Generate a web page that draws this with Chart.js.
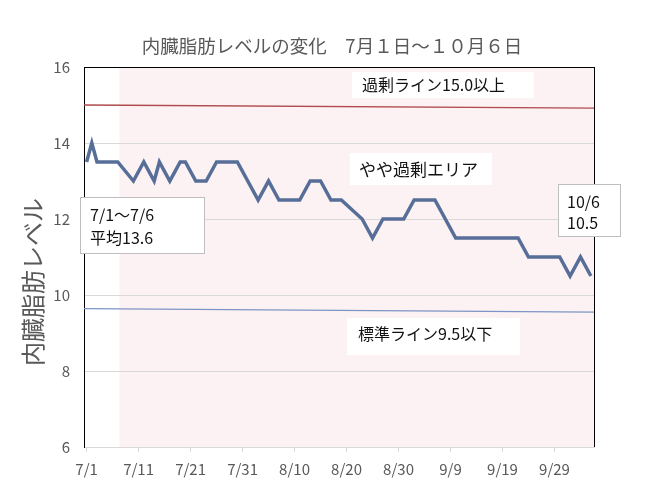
<!DOCTYPE html>
<html>
<head>
<meta charset="utf-8">
<script src="https://cdn.jsdelivr.net/npm/chart.js@4/dist/chart.umd.min.js"></script>
<style>
  html, body { margin: 0; padding: 0; background: #fff; }
  #wrap { width: 656px; height: 489px; }
</style>
</head>
<body>
<div id="wrap"><canvas id="fatChart" width="656" height="489"></canvas></div>
<script>
// days from 7/1 (0) and measured level
const days = [0, 1, 2, 6, 9, 11, 13, 14, 16, 18, 19, 21, 23, 25, 29, 33, 35, 37, 41, 43, 45, 47, 49, 53, 55, 57, 61, 63, 67, 71, 83, 85, 91, 93, 95, 97]
const levels = [13.5, 14, 13.5, 13.5, 13, 13.5, 13, 13.5, 13, 13.5, 13.5, 13, 13, 13.5, 13.5, 12.5, 13, 12.5, 12.5, 13, 13, 12.5, 12.5, 12, 11.5, 12, 12, 12.5, 12.5, 11.5, 11.5, 11, 11, 10.5, 11, 10.5]

// hand drawn reference lines (start / end)
const lineDays = [-0.5, 97.6]
const overLine = [15.0, 14.92]
const normalLine = [9.64, 9.55]

const tickDays = [0, 10, 20, 30, 40, 50, 60, 70, 80, 90]
const tickLabels = ["7/1", "7/11", "7/21", "7/31", "8/10", "8/20", "8/30", "9/9", "9/19", "9/29"]
const pinkStart = 6.3

const FONT = "'Noto Sans CJK JP', 'Noto Sans', sans-serif"
const TITLE = "内臓脂肪レベルの変化　7月１日～１０月６日"

function pts(xs, ys) {
   return xs.map((x, i) => ({ x: x, y: ys[i] }))
}

// pink area after the first week + right frame line
const backPlugin = {
   id: "back",
   beforeDraw(chart) {
      const c = chart.ctx, a = chart.chartArea
      const x0 = chart.scales.x.getPixelForValue(pinkStart)
      c.save()
      c.fillStyle = "#FDF2F3"
      c.fillRect(x0, a.top, a.right - x0, a.bottom - a.top)
      c.restore()
   },
   afterDatasetsDraw(chart) {
      const c = chart.ctx, a = chart.chartArea
      c.save()
      c.strokeStyle = "#000"
      c.lineWidth = 1
      c.beginPath()
      c.moveTo(Math.round(a.right) + 0.5, a.top)
      c.lineTo(Math.round(a.right) + 0.5, a.bottom)
      c.stroke()
      c.restore()
   },
}

// text boxes
const notes = [
   { box: [352, 72, 182, 26], lines: ["過剰ライン15.0以上"], tx: 362, ty: [85], size: 16, border: false },
   { box: [350, 153, 142, 32], lines: ["やや過剰エリア"], tx: 359, ty: [170], size: 17, border: false },
   { box: [347, 318, 173, 37], lines: ["標準ライン9.5以下"], tx: 358, ty: [334], size: 16, border: false },
   { box: [80.5, 197.5, 124, 56], lines: ["7/1～7/6", "平均13.6"], tx: 90, ty: [215, 238], size: 16, border: true },
   { box: [558.5, 184.5, 62, 52], lines: ["10/6", "10.5"], tx: 567, ty: [202, 223], size: 16, border: true },
]

const notePlugin = {
   id: "notes",
   afterDraw(chart) {
      const c = chart.ctx
      c.save()
      notes.forEach(n => {
         c.fillStyle = "#fff"
         c.fillRect(n.box[0], n.box[1], n.box[2], n.box[3])
         if (n.border) {
            c.strokeStyle = "#BFBFBF"
            c.lineWidth = 1
            c.strokeRect(n.box[0], n.box[1], n.box[2], n.box[3])
         }
         c.fillStyle = "#111"
         c.font = n.size + "px " + FONT
         c.textBaseline = "middle"
         c.textAlign = "left"
         n.lines.forEach((t, i) => c.fillText(t, n.tx, n.ty[i]))
      })
      // chart title
      c.fillStyle = "#595959"
      c.font = "18.5px " + FONT
      c.textAlign = "center"
      c.fillText(TITLE, 332, 46)
      // y axis title
      c.translate(33, 282)
      c.rotate(-Math.PI / 2)
      c.font = "24px " + FONT
      c.fillText("内臓脂肪レベル", 0, 0)
      c.restore()
   },
}

Chart.defaults.font.family = FONT
Chart.defaults.color = "#595959"

var ctx = document.getElementById("fatChart").getContext("2d")
var chart = new Chart(ctx, {
   type: "line",
   data: {
      datasets: [
         {
            data: pts(lineDays, overLine),
            borderColor: "#B04A4C",
            borderWidth: 1.3,
            pointRadius: 0,
         },
         {
            data: pts(lineDays, normalLine),
            borderColor: "#7C95C4",
            borderWidth: 1.2,
            pointRadius: 0,
         },
         {
            data: pts(days, levels),
            borderColor: "#566E98",
            borderWidth: 3.5,
            pointRadius: 0,
            borderJoinStyle: "miter",
         },
      ],
   },
   plugins: [backPlugin, notePlugin],
   options: {
      responsive: false,
      animation: false,
      layout: { padding: { top: 67, right: 62, left: 0, bottom: 0 } },
      plugins: {
         legend: { display: false },
         tooltip: { enabled: false },
      },
      scales: {
         x: {
            type: "linear",
            min: -0.5,
            max: 97.6,
            afterBuildTicks: scale => {
               scale.ticks = tickDays.map(v => ({ value: v }))
            },
            afterFit: scale => {
               scale.height = 42
            },
            ticks: {
               font: { size: 15 },
               padding: 8,
               maxRotation: 0,
               autoSkip: false,
               callback: (v, i) => tickLabels[i],
            },
            grid: {
               drawOnChartArea: false,
               drawTicks: true,
               tickLength: 5,
               color: "#D9D9D9",
            },
            border: { color: "#D9D9D9" },
         },
         y: {
            min: 6,
            max: 16,
            afterFit: scale => {
               scale.width = 84
            },
            ticks: {
               stepSize: 2,
               font: { size: 15 },
               padding: 14,
            },
            grid: {
               drawTicks: false,
               color: c => (c.tick && c.tick.value === 16 ? "#000" : "#D9D9D9"),
            },
            border: { color: "#000" },
         },
      },
   },
})
</script>
</body>
</html>
